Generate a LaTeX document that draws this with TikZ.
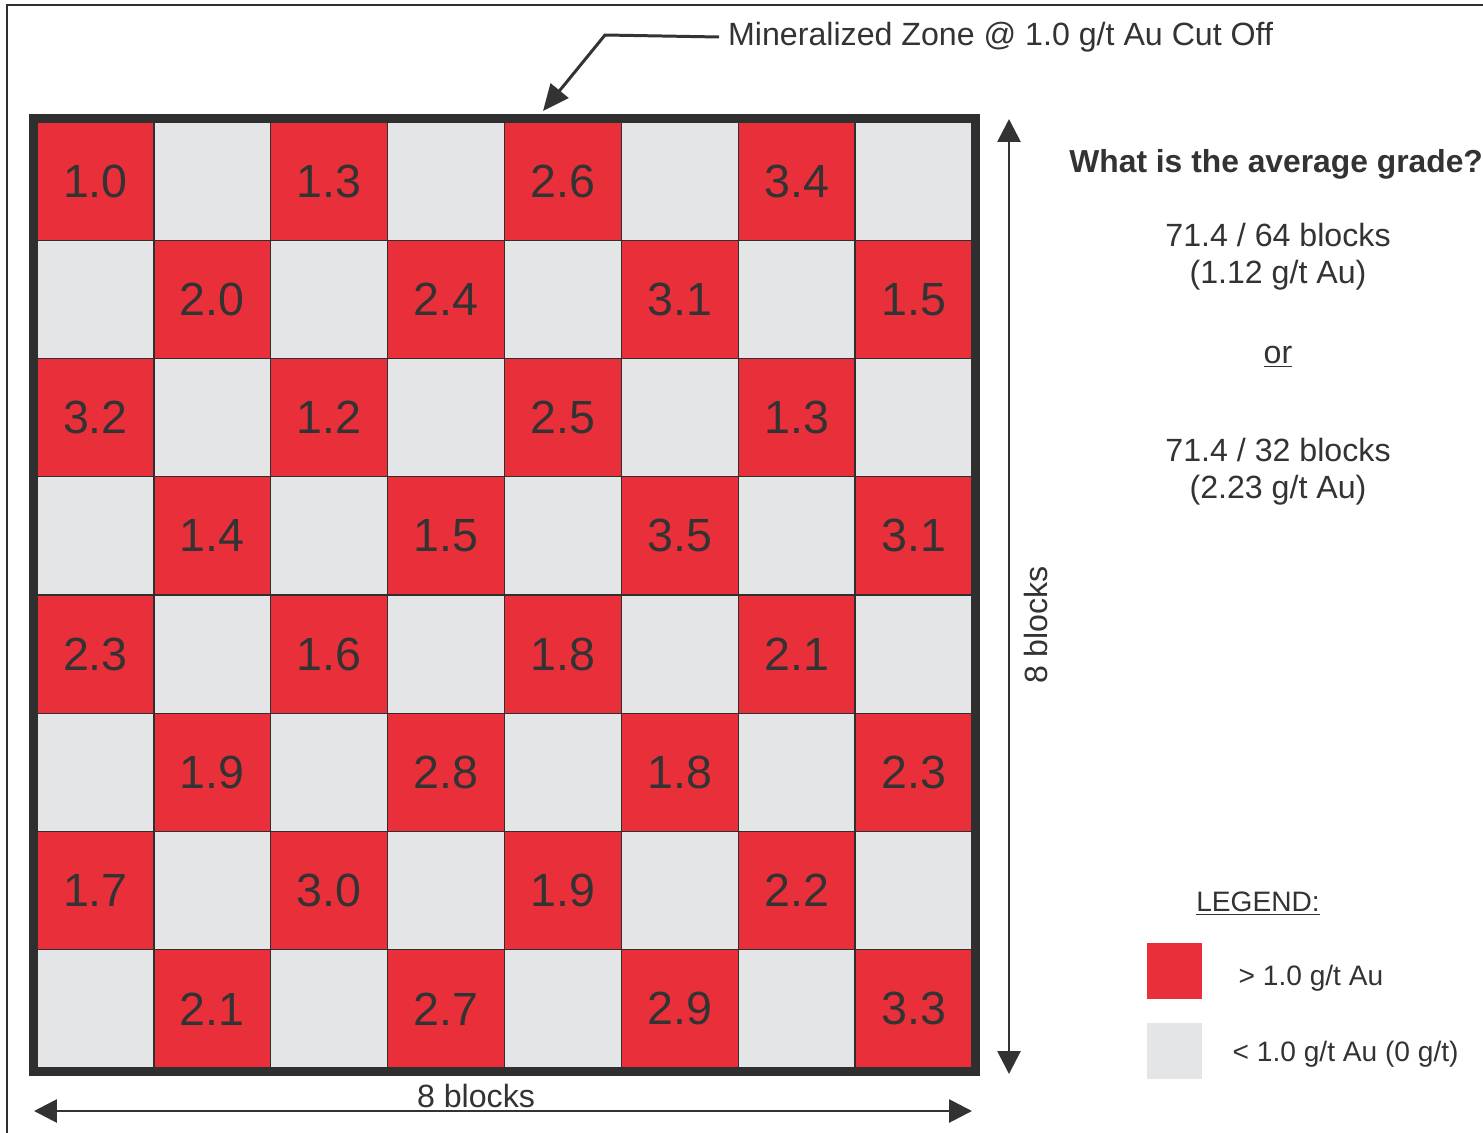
\documentclass[tikz,border=0pt]{standalone}
\usepackage{fontspec}
\setmainfont{Liberation Sans}
\usepackage{tikz}
\usetikzlibrary{arrows.meta,positioning}
\definecolor{OreRed}{HTML}{E9303A}
\definecolor{WasteGray}{HTML}{E4E5E7}
\definecolor{EdgeGray}{HTML}{2F2F2F}
\definecolor{InkGray}{HTML}{333333}

\begin{document}
\begin{tikzpicture}[
  x=0.02cm, y=-0.02cm,
  cell/.style={draw=EdgeGray, line width=0.8pt, minimum width=2.3375cm, minimum height=2.365cm,
               inner sep=0pt, font=\fontsize{26.5}{30}\selectfont, text=InkGray},
  ore/.style={cell, fill=OreRed},
  waste/.style={cell, fill=WasteGray},
  lbl/.style={font=\fontsize{18.3}{21}\selectfont, text=InkGray, inner sep=0pt, align=center},
  lgd/.style={font=\fontsize{16}{19}\selectfont, text=InkGray, inner sep=0pt},
  keybox/.style={minimum width=1.1cm, minimum height=1.12cm, inner sep=0pt},
  dimarrow/.style={{Triangle[length=13pt,width=13pt]}-{Triangle[length=13pt,width=13pt]},
                   line width=1.6pt, draw=InkGray},
  node distance=0.45cm
]
  \useasboundingbox (0,0) rectangle (1483,1132);
  % outer frame (cropped)
  \draw[line width=1.7pt, color=EdgeGray] (7,1160) -- (7,5) -- (1520,5);

  % block model, one row of ore values at a time
  \foreach \r/\vals in {1/{1.0,1.3,2.6,3.4}, 2/{2.0,2.4,3.1,1.5}, 3/{3.2,1.2,2.5,1.3},
                        4/{1.4,1.5,3.5,3.1}, 5/{2.3,1.6,1.8,2.1}, 6/{1.9,2.8,1.8,2.3},
                        7/{1.7,3.0,1.9,2.2}, 8/{2.1,2.7,2.9,3.3}}
    \foreach \v [count=\j] in \vals {
      \pgfmathtruncatemacro\orecol{2*\j-mod(\r,2)}
      \pgfmathtruncatemacro\wastecol{2*\j-1+mod(\r,2)}
      \node[waste] (c\r\wastecol) at ({37+116.875*(\wastecol-0.5)},{122+118.25*(\r-0.5)}) {};
      \node[ore]   (c\r\orecol)   at ({37+116.875*(\orecol-0.5)},{122+118.25*(\r-0.5)}) {\v};
    }
  \draw[line width=4pt, color=EdgeGray]
    ([shift={(-3.5,-3.5)}]c11.north west) rectangle ([shift={(3.5,3.5)}]c88.south east);

  % mineralized zone callout
  \node[lbl, anchor=west, inner sep=5pt] (zone) at (719,37) {Mineralized Zone @ 1.0 g/t Au Cut Off};
  \coordinate (bend) at (605,35);
  \coordinate (tip) at (543,111);
  \draw[-{Triangle[length=15pt,width=13pt]}, line width=1.7pt, color=InkGray]
    (zone.west) -- (bend) -- (tip);

  % dimensions
  \coordinate (vtop) at (1009,119);
  \coordinate (vbot) at (1009,1074);
  \draw[dimarrow] (vtop) -- (vbot);
  \node[lbl, rotate=90] (vlab) at (1036,625) {8 blocks};
  \coordinate (hleft) at (34,1111);
  \coordinate (hright) at (972,1111);
  \draw[dimarrow] (hleft) -- (hright);
  \node[lbl] (hlab) at (476,1096) {8 blocks};

  % question and answers
  \node[lbl, anchor=west, font=\fontsize{18.1}{21}\selectfont\bfseries] (quest) at (1069,164)
    {What is the average grade?};
  \node[lbl] (all) at (1278,257) {71.4 / 64 blocks\\(1.12 g/t Au)};
  \node[lbl] (or) at (1278,357) {\underline{or}};
  \node[lbl] (ore) at (1278,472) {71.4 / 32 blocks\\(2.23 g/t Au)};

  % legend
  \node[lgd] (lhead) at (1258,904) {\underline{LEGEND:}};
  \node[keybox, fill=OreRed] (keyore) at (1174.5,970.5) {};
  \node[keybox, fill=WasteGray] (keywaste) at (1174.5,1050.5) {};
  \node[lgd, right=0.72cm of keyore, yshift=-0.16cm] (tore) {> 1.0 g/t Au};
  \node[lgd, right=0.6cm of keywaste, yshift=-0.08cm] (twaste) {< 1.0 g/t Au (0 g/t)};
\end{tikzpicture}
\end{document}
